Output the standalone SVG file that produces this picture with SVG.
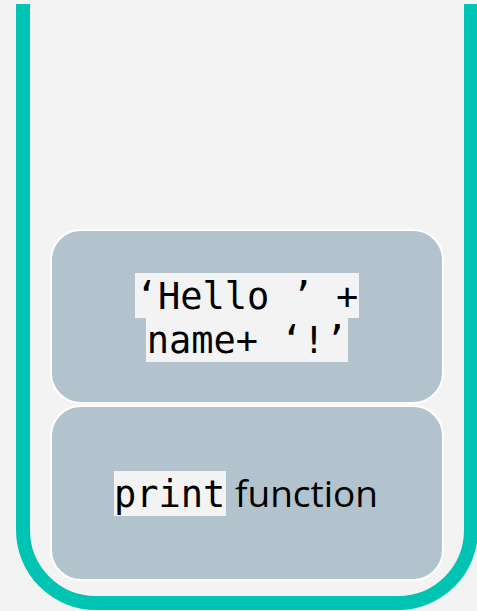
<svg xmlns="http://www.w3.org/2000/svg" width="477" height="611" viewBox="0 0 477 611">
<style>
.box{fill:#b2c3cd;stroke:#ffffff;stroke-width:2}
.mono{font-family:"DejaVu Sans Mono",monospace;font-size:37px;fill:#000}
.sans{font-family:"Open Sans","Noto Sans",sans-serif;font-size:37px;fill:#000}
.hl{fill:#f3f3f3}
</style>
<rect width="477" height="611" fill="#f3f3f3"/>
<g id="stack">
<path d="M23,4 V530 A73,73 0 0 0 96,603 H398 A73,73 0 0 0 471,530 V4" fill="none" stroke="#00c4b3" stroke-width="14"/>
</g>
<g id="node-expr">
<rect class="box" x="51" y="230" width="392" height="173" rx="30"/>
<rect class="hl" x="135" y="273" width="224" height="45"/>
<rect class="hl" x="146" y="318" width="202" height="44"/>
<text class="mono" x="247" y="309" text-anchor="middle" xml:space="preserve">‘Hello ’ +</text>
<text class="mono" x="247" y="353" text-anchor="middle" xml:space="preserve">name+ ‘!’</text>
</g>
<g id="node-print">
<rect class="box" x="51" y="406" width="392" height="174" rx="30"/>
<rect class="hl" x="114" y="471" width="112" height="45"/>
<text x="114" y="507"><tspan class="mono">print</tspan><tspan class="sans"> function</tspan></text>
</g>
<g id="connectors"></g>
</svg>
